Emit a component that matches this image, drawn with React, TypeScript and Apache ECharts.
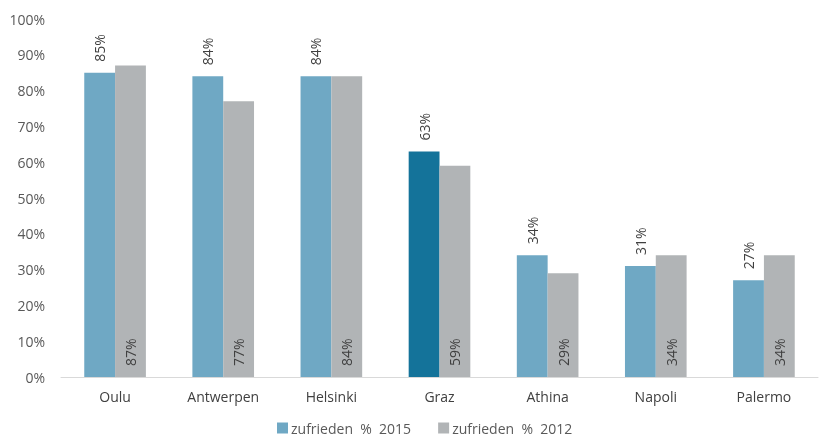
import React, { useEffect, useRef } from "react";
import * as echarts from "echarts";

const categories = ["Oulu", "Antwerpen", "Helsinki", "Graz", "Athina", "Napoli", "Palermo"];
const values2015 = [85, 84, 84, 63, 34, 31, 27];
const values2012 = [87, 77, 84, 59, 29, 34, 34];
const seriesNames = ["zufrieden  %  2015", "zufrieden  %  2012"];
const highlightCategory = "Graz";

const FONT = "'Open Sans', 'Liberation Sans', sans-serif";

export default function App() {
  const ref = useRef<HTMLDivElement>(null);
  useEffect(() => {
    if (!ref.current) return;
    const chart = echarts.init(ref.current, undefined, { renderer: "svg" });
    chart.setOption({
      animation: false,
      textStyle: { fontFamily: FONT },
      grid: { left: 61, right: 10, top: 19, bottom: 64 },
      legend: {
        top: 421,
        left: 277,
        padding: 0,
        itemWidth: 11,
        itemHeight: 11,
        itemGap: 27,
        icon: "rect",
        textStyle: { color: "#595959", fontSize: 14, fontFamily: FONT, padding: [0, 0, 0, -2] },
        data: seriesNames,
      },
      xAxis: {
        type: "category",
        data: categories,
        axisLine: { lineStyle: { color: "#D9D9D9", width: 1 } },
        axisTick: { show: false },
        axisLabel: { color: "#404040", fontSize: 14, margin: 12, fontFamily: FONT },
      },
      yAxis: {
        type: "value",
        min: 0,
        max: 100,
        interval: 10,
        splitLine: { show: false },
        axisLine: { show: false },
        axisTick: { show: false },
        axisLabel: { formatter: "{value}%", color: "#595959", fontSize: 14, margin: 16, fontFamily: FONT },
      },
      series: [
        {
          name: seriesNames[0],
          type: "bar",
          barGap: "0%",
          barCategoryGap: "43%",
          itemStyle: { color: "#6FA8C4" },
          data: values2015.map((v, i) =>
            categories[i] === highlightCategory ? { value: v, itemStyle: { color: "#14739A" } } : v
          ),
          label: {
            show: true,
            position: "top",
            rotate: 90,
            align: "left",
            verticalAlign: "middle",
            distance: 11,
            formatter: "{c}%",
            color: "#404040",
            fontSize: 14,
            fontFamily: FONT,
          },
        },
        {
          name: seriesNames[1],
          type: "bar",
          itemStyle: { color: "#B1B4B6" },
          data: values2012,
          label: {
            show: true,
            position: "insideBottom",
            rotate: 90,
            align: "left",
            verticalAlign: "middle",
            distance: 11,
            formatter: "{c}%",
            color: "#404040",
            fontSize: 14,
            fontFamily: FONT,
          },
        },
      ],
    });
    return () => chart.dispose();
  }, []);
  return <div ref={ref} style={{ position: "fixed", left: 0, top: 0, width: 828, height: 441 }} />;
}
